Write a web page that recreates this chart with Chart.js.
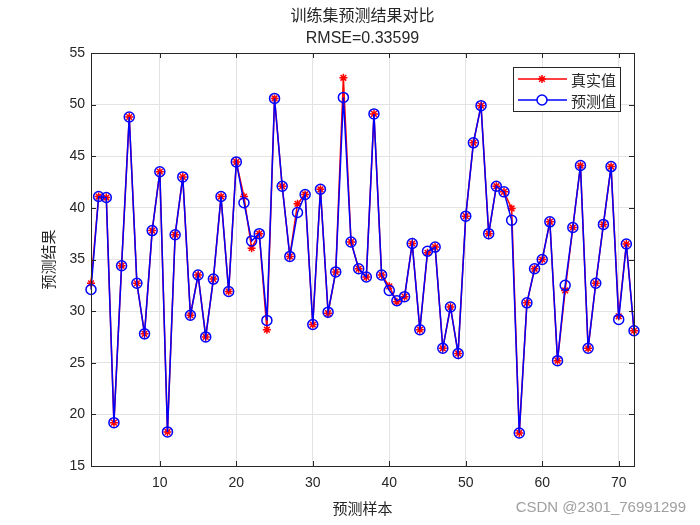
<!DOCTYPE html>
<html>
<head>
<meta charset="utf-8">
<script src="https://cdn.jsdelivr.net/npm/chart.js@4/dist/chart.umd.min.js"></script>
<style>
  body { margin: 0; background: #fff; }
  canvas { display: block; }
</style>
</head>
<body>
<canvas id="myChart" width="700" height="525"></canvas>
<script>
// sample index 1..72
const samples = Array.from({ length: 72 }, (_, i) => i + 1);

// true values (red stars)
const trueValues = [
  32.7, 41.1, 41.0, 19.2, 34.4, 48.8, 32.7, 27.8, 37.8, 43.5,
  18.3, 37.4, 43.0, 29.6, 33.5, 27.5, 33.1, 41.1, 31.9, 44.45,
  41.1, 36.1, 37.5, 28.2, 50.6, 42.1, 35.3, 40.4, 41.3, 28.7,
  41.8, 29.8, 33.8, 52.6, 36.7, 34.1, 33.3, 49.1, 33.5, 32.4,
  30.9, 31.4, 36.55, 28.2, 35.65, 36.2, 26.4, 30.4, 25.9, 39.2,
  46.3, 49.9, 37.5, 42.1, 41.55, 39.95, 18.2, 30.8, 34.1, 35.0,
  38.65, 25.2, 32.0, 38.1, 44.1, 26.4, 32.7, 38.4, 44.0, 29.5,
  36.5, 28.1
];

// predicted values (blue circles)
const predValues = [
  32.1, 41.1, 41.0, 19.2, 34.4, 48.8, 32.7, 27.8, 37.8, 43.5,
  18.3, 37.4, 43.0, 29.6, 33.5, 27.5, 33.1, 41.1, 31.9, 44.45,
  40.5, 36.8, 37.5, 29.1, 50.6, 42.1, 35.3, 39.55, 41.3, 28.7,
  41.8, 29.9, 33.8, 50.7, 36.7, 34.1, 33.3, 49.1, 33.5, 32.0,
  31.0, 31.4, 36.55, 28.2, 35.8, 36.2, 26.4, 30.4, 25.9, 39.2,
  46.3, 49.9, 37.5, 42.1, 41.55, 38.8, 18.2, 30.8, 34.1, 35.0,
  38.65, 25.2, 32.5, 38.1, 44.1, 26.4, 32.7, 38.4, 44.0, 29.2,
  36.5, 28.1
];

const xTicks = [10, 20, 30, 40, 50, 60, 70];
const yTicks = [15, 20, 25, 30, 35, 40, 45, 50, 55];

const titleText = '训练集预测结果对比';
const subtitleText = 'RMSE=0.33599';
const xLabel = '预测样本';
const yLabel = '预测结果';
const legendLabels = ['真实值', '预测值'];
const watermark = 'CSDN @2301_76991299';

const cjkFont = '"Noto Sans CJK SC", "Noto Sans", sans-serif';
const numFont = '"Liberation Sans", Arial, sans-serif';

function toPoints(values) {
  return samples.map((s, i) => ({ x: s, y: values[i] }));
}

// draws the MATLAB style box, inward ticks, texts and legend
const matlabDecor = {
  id: 'matlabDecor',
  afterDraw(chart) {
    const ctx = chart.ctx;
    const area = chart.chartArea;
    const xs = chart.scales.x;
    const ys = chart.scales.y;
    ctx.save();

    // inward ticks
    ctx.strokeStyle = '#262626';
    ctx.lineWidth = 1;
    ctx.beginPath();
    xTicks.forEach(t => {
      const px = Math.round(xs.getPixelForValue(t)) + 0.5;
      ctx.moveTo(px, area.bottom); ctx.lineTo(px, area.bottom - 5);
      ctx.moveTo(px, area.top); ctx.lineTo(px, area.top + 5);
    });
    yTicks.forEach(t => {
      const py = Math.round(ys.getPixelForValue(t)) + 0.5;
      ctx.moveTo(area.left, py); ctx.lineTo(area.left + 5, py);
      ctx.moveTo(area.right, py); ctx.lineTo(area.right - 5, py);
    });
    ctx.stroke();

    // box
    ctx.strokeRect(Math.round(area.left) + 0.5, Math.round(area.top) + 0.5,
      Math.round(area.right - area.left), Math.round(area.bottom - area.top));

    // titles
    ctx.fillStyle = '#262626';
    ctx.textAlign = 'center';
    ctx.textBaseline = 'middle';
    const cx = (area.left + area.right) / 2;
    ctx.font = '16px ' + cjkFont;
    ctx.fillText(titleText, cx, 15);
    ctx.font = '16px ' + numFont;
    ctx.fillText(subtitleText, cx, 39);

    // axis labels
    ctx.font = '15px ' + cjkFont;
    ctx.fillText(xLabel, cx, 508);
    ctx.save();
    ctx.translate(48, (area.top + area.bottom) / 2);
    ctx.rotate(-Math.PI / 2);
    ctx.fillText(yLabel, 0, 0);
    ctx.restore();

    // legend
    const lx = 513, ly = 67, lw = 107, lh = 44;
    ctx.fillStyle = '#fff';
    ctx.fillRect(lx, ly, lw, lh);
    ctx.strokeStyle = '#262626';
    ctx.strokeRect(lx + 0.5, ly + 0.5, lw, lh);
    chart.data.datasets.slice().sort((a, b) => a.legendIndex - b.legendIndex).forEach((ds, i) => {
      const y = ly + 12 + i * 21;
      ctx.strokeStyle = ds.borderColor;
      ctx.lineWidth = 1.5;
      ctx.beginPath();
      ctx.moveTo(lx + 5, y); ctx.lineTo(lx + 54, y);
      ctx.stroke();
      ctx.fillStyle = '#fff';
      Chart.helpers.drawPoint(ctx, {
        pointStyle: ds.pointStyle, radius: ds.pointRadius, rotation: 0, borderWidth: 1.5
      }, lx + 29, y);
      ctx.fillStyle = '#262626';
      ctx.textAlign = 'left';
      ctx.font = '15px ' + cjkFont;
      ctx.fillText(legendLabels[ds.legendIndex], lx + 58, y + 1);
    });

    // watermark
    ctx.fillStyle = '#a0a0a0';
    ctx.textAlign = 'right';
    ctx.font = '15px ' + numFont;
    ctx.fillText(watermark, 686, 508);

    ctx.restore();
  }
};

const ctx = document.getElementById('myChart').getContext('2d');
const myChart = new Chart(ctx, {
  type: 'line',
  data: {
    datasets: [
      {
        label: legendLabels[1],
        legendIndex: 1,
        data: toPoints(predValues),
        borderColor: '#0000ff',
        backgroundColor: 'rgba(0,0,0,0)',
        borderWidth: 1.5,
        pointStyle: 'circle',
        pointRadius: 5,
        pointBorderWidth: 1.5,
        clip: false,
        order: 0
      },
      {
        label: legendLabels[0],
        legendIndex: 0,
        data: toPoints(trueValues),
        borderColor: '#ff0000',
        backgroundColor: '#ff0000',
        borderWidth: 1.5,
        pointStyle: 'star',
        pointRadius: 4,
        pointBorderWidth: 1.5,
        clip: false,
        order: 1
      }
    ]
  },
  options: {
    responsive: false,
    animation: false,
    devicePixelRatio: 1,
    layout: { padding: { top: 53, right: 66, left: 0, bottom: 0 } },
    plugins: {
      legend: { display: false },
      tooltip: { enabled: false }
    },
    scales: {
      x: {
        type: 'linear',
        min: 1,
        max: 72,
        afterBuildTicks: scale => { scale.ticks = xTicks.map(v => ({ value: v })); },
        afterFit: scale => { scale.height = 59; },
        grid: { color: '#e3e3e3', drawTicks: false },
        border: { display: false },
        ticks: { color: '#262626', font: { family: numFont, size: 14 }, padding: 9, maxRotation: 0 }
      },
      y: {
        type: 'linear',
        min: 15,
        max: 55,
        afterBuildTicks: scale => { scale.ticks = yTicks.map(v => ({ value: v })); },
        afterFit: scale => { scale.width = 91; },
        grid: { color: '#e3e3e3', drawTicks: false },
        border: { display: false },
        ticks: { color: '#262626', font: { family: numFont, size: 14 }, padding: 6 }
      }
    }
  },
  plugins: [matlabDecor]
});
</script>
</body>
</html>
